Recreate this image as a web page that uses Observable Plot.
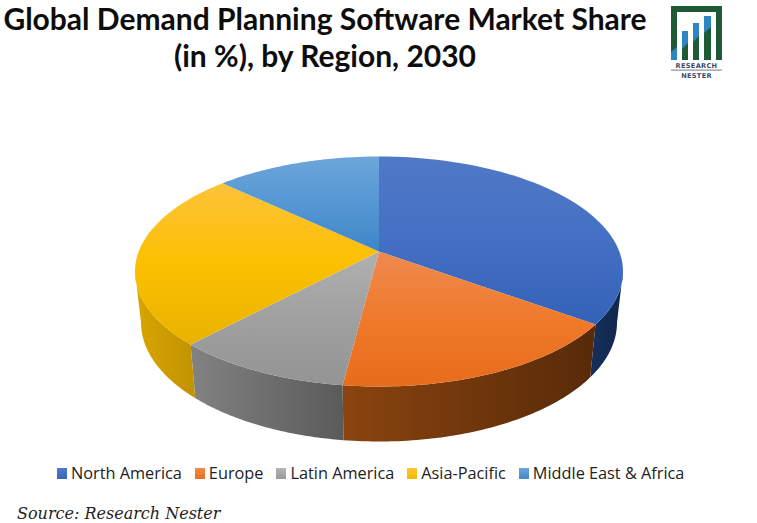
<!DOCTYPE html>
<html>
<head>
<meta charset="utf-8">
<script src="https://cdn.jsdelivr.net/npm/d3@7"></script>
<script src="https://cdn.jsdelivr.net/npm/@observablehq/plot@0.6"></script>
<style>
html,body{margin:0;padding:0;background:#fff;}
#page{position:relative;width:757px;height:523px;overflow:hidden;}
#title{height:90px;box-sizing:border-box;width:650px;padding-top:0;text-align:center;font:700 30px/37px Lato,sans-serif;color:#0d0d0d;}
#chart{height:365px;}
#chart svg{display:block;}
#legend{position:absolute;left:57px;top:462px;display:flex;align-items:center;font:16.3px/22px "Open Sans",sans-serif;color:#222;white-space:nowrap;}
#legend .item{display:flex;align-items:center;margin-right:13px;}
#legend i{display:block;width:10px;height:11px;margin-right:4px;}
#source{position:absolute;left:17px;top:502px;font:italic 16px/24px "DejaVu Serif",serif;color:#222;}
#logo{position:absolute;left:665px;top:0;}
</style>
</head>
<body>
<div id="page">
  <div id="title">Global Demand Planning Software Market Share<br>(in %), by Region, 2030</div>
  <div id="chart"></div>
  <div id="legend"></div>
  <div id="source">Source: Research Nester</div>
  <svg id="logo" width="64" height="84" viewBox="665 0 64 84" role="img" aria-label="Research Nester logo">
    <path d="M671 60V6H722V60H716V12H677V52Z" fill="#1f5a36"/>
    <path d="M671 60V52L677 47V60Z" fill="#2e86c1"/>
    <path d="M682 31H688V60H682Z" fill="#1f5a36"/><path d="M682 31H688V43L682 49Z" fill="#2e86c1"/>
    <path d="M693 23H699V60H693Z" fill="#1f5a36"/><path d="M693 23H699V36L693 42Z" fill="#2e86c1"/>
    <path d="M704 16H711V60H704Z" fill="#1f5a36"/><path d="M704 16H711V27L704 33Z" fill="#2e86c1"/>
    <text x="696.5" y="68" text-anchor="middle" font-family="'DejaVu Sans'" font-weight="700" font-size="6.6" letter-spacing=".3" fill="#3b4a6b">RESEARCH</text>
    <rect x="671" y="69.5" width="51" height="1.2" fill="#8a8f98"/>
    <text x="696.5" y="78" text-anchor="middle" font-family="'DejaVu Sans'" font-weight="700" font-size="6.6" letter-spacing=".3" fill="#3b4a6b">NESTER</text>
  </svg>
</div>
<script>
// Data
const regions = ["North America", "Europe", "Latin America", "Asia-Pacific", "Middle East & Africa"];
const shares = [35, 17, 10, 25, 13];

// Styles
const topPaint = [["#5079c6","#4470c4","#3462b6"],["#ee8a50","#ef7a2a","#e76c1b"],["#b0b0b0","#a0a0a0","#949494"],["#fdc33a","#fcc000","#e8b200"],["#6ca6da","#5597d3","#3f85c6"]];
const sidePaint = [["#15305c","#10264a"],["#8a440f","#582a09"],["#828282","#5a5a5a"],["#d8a600","#c29200"],["#2a5c88","#2a5c88"]];
const swatches = [["#4f7bc9","#3a66b8"],["#f58a44","#e8701f"],["#b5b5b5","#999"],["#fdc72e","#f5b800"],["#6aa6dc","#4088c8"]];

// Pie geometry: perspective view of a disc
const topDisc = {cx: 378.5, cy: 271, rx: 244, ry: 115};
const baseDisc = {cx: 378.5, cy: 322, rx: 238, ry: 119};
const apexShift = 20 / 115;
const squeeze = Math.sqrt(1 - apexShift * apexShift);

// true pie angle to the parameter on the projected ellipse
function ellipseParam(theta) {
  const d = 1 + apexShift * Math.cos(theta);
  const t = Math.atan2(squeeze * Math.sin(theta) / d, (Math.cos(theta) + apexShift) / d);
  return t < 0 ? t + 2 * Math.PI : t;
}
const onDisc = (disc, t) => ({x: disc.cx + disc.rx * Math.sin(t), y: disc.cy - disc.ry * Math.cos(t)});
const arc = (disc, a, b) => d3.range(0, 61).map(i => onDisc(disc, a + (b - a) * i / 60));

const total = d3.sum(shares);
const cumulative = d3.cumsum(shares);
const bounds = shares.map((s, i) => {
  const end = cumulative[i] / total * 2 * Math.PI;
  const start = (cumulative[i] - s) / total * 2 * Math.PI;
  const t0 = i === 0 ? 0 : ellipseParam(start);
  const t1 = i === shares.length - 1 ? 2 * Math.PI : ellipseParam(end);
  return [t0, t1];
});
const apex = {x: topDisc.cx, y: topDisc.cy - apexShift * topDisc.ry};

const marks = [];
bounds.forEach(([t0, t1], i) => {
  const a = Math.max(t0, Math.PI / 2), b = Math.min(t1, 3 * Math.PI / 2);
  if (a < b) {
    const wall = [...arc(topDisc, a, b), ...arc(baseDisc, b, a)];
    marks.push(Plot.line(wall, {x: "x", y: "y", fill: `url(#side${i})`, stroke: "none"}));
  }
});
bounds.forEach(([t0, t1], i) => {
  const face = [apex, ...arc(topDisc, t0, t1), apex];
  marks.push(Plot.line(face, {x: "x", y: "y", fill: `url(#top${i})`, stroke: "none"}));
});

const svg = Plot.plot({
  width: 757,
  height: 365,
  margin: 0,
  x: {domain: [0, 757], range: [0, 757], axis: null},
  y: {domain: [90, 455], range: [0, 365], axis: null},
  style: {background: "transparent"},
  marks
});

const defs = d3.select(svg).insert("defs", ":first-child");
function gradient(id, stops, x2, y2) {
  const g = defs.append("linearGradient").attr("id", id)
    .attr("x1", 0).attr("y1", 0).attr("x2", x2).attr("y2", y2);
  stops.forEach((c, k) => g.append("stop").attr("offset", k / (stops.length - 1)).attr("stop-color", c));
}
topPaint.forEach((p, i) => gradient(`top${i}`, p, 0, 1));
sidePaint.forEach((p, i) => gradient(`side${i}`, p, 1, 0));
document.getElementById("chart").append(svg);

const legend = d3.select("#legend");
regions.forEach((r, i) => {
  const it = legend.append("div").attr("class", "item");
  it.append("i").style("background", `linear-gradient(${swatches[i][0]},${swatches[i][1]})`);
  it.append("span").text(r);
});
</script>
</body>
</html>
